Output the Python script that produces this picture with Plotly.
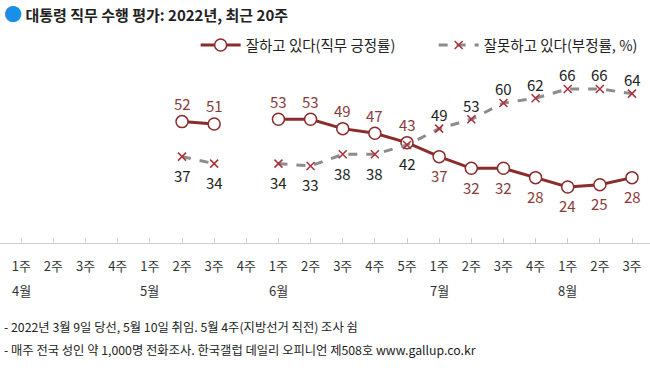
import plotly.graph_objects as go

weeks = ["1주", "2주", "3주", "4주",
         "1주", "2주", "3주", "4주",
         "1주", "2주", "3주", "4주", "5주",
         "1주", "2주", "3주", "4주",
         "1주", "2주", "3주"]
months = ["4월", "5월", "6월", "7월", "8월"]
month_start_idx = [0, 4, 8, 13, 17]

approve = [None, None, None, None,
           None, 52, 51, None,
           53, 53, 49, 47, 43,
           37, 32, 32, 28,
           24, 25, 28]
disapprove = [None, None, None, None,
              None, 37, 34, None,
              34, 33, 38, 38, 42,
              49, 53, 60, 62,
              66, 66, 64]

RED = "#8b2c2c"
LABEL_RED = "#8b3a3a"
GRAY = "#8c8c8c"
FONT = "Noto Sans CJK KR"

x = list(range(len(weeks)))

fig = go.Figure()
fig.add_trace(go.Scatter(
    x=x, y=approve, mode="lines+markers", name="잘하고 있다(직무 긍정률)",
    line=dict(color=RED, width=3),
    marker=dict(symbol="circle", size=12, color="white", line=dict(color=RED, width=1.5)),
))
fig.add_trace(go.Scatter(
    x=x, y=disapprove, mode="lines+markers", name="잘못하고 있다(부정률, %)",
    line=dict(color=GRAY, width=3, dash="dash"),
    marker=dict(symbol="x-thin", size=8, color="#a8323a", line=dict(color="#a8323a", width=1.5)),
))

annotations = []
cross_idx = 13  # from July onward, label positions swap
for i in x:
    a = approve[i]
    d = disapprove[i]
    if a is not None:
        up = i < cross_idx
        annotations.append(dict(x=i, y=a, xref="x", yref="y", text=str(a), showarrow=False,
                                yanchor="middle", yshift=18 if up else -19,
                                font=dict(family=FONT, size=15, color=LABEL_RED)))
    if d is not None:
        up = i >= cross_idx
        annotations.append(dict(x=i, y=d, xref="x", yref="y", text=str(d), showarrow=False,
                                yanchor="middle", yshift=14 if up else -19,
                                font=dict(family=FONT, size=15, color="#222222")))

for m, idx in zip(months, month_start_idx):
    annotations.append(dict(x=idx, y=0, xref="x", yref="paper", text=m, showarrow=False,
                            xanchor="center", yanchor="middle",
                            yshift=-47, font=dict(family=FONT, size=13, color="#333333")))

annotations.append(dict(x=0, y=1, xref="paper", yref="paper", xanchor="left", yanchor="middle",
                        xshift=2, yshift=47,
                        text='<span style="color:#1a8fe6;font-size:18px">●</span> <b>대통령 직무 수행 평가: 2022년, 최근 20주</b>',
                        showarrow=False, font=dict(family=FONT, size=15, color="#222222")))

footnotes = ["- 2022년 3월 9일 당선, 5월 10일 취임. 5월 4주(지방선거 직전) 조사 쉼",
             "- 매주 전국 성인 약 1,000명 전화조사. 한국갤럽 데일리 오피니언 제508호 www.gallup.co.kr"]
for k, t in enumerate(footnotes):
    annotations.append(dict(x=0, y=0, xref="paper", yref="paper", xanchor="left", yanchor="middle",
                            xshift=2, yshift=-84 - 23 * k, text=t, showarrow=False,
                            font=dict(family=FONT, size=12.3, color="#222222")))

fig.update_layout(
    width=650, height=371,
    margin=dict(l=0, r=0, t=60, b=128, autoexpand=False),
    paper_bgcolor="white", plot_bgcolor="white",
    font=dict(family=FONT, size=13, color="#333333"),
    xaxis=dict(range=[-0.663, 19.56], tickvals=x, ticktext=weeks, showgrid=False,
               zeroline=False, showline=True, linecolor="#d0d0d0", linewidth=1,
               ticks="inside", ticklen=5, tickcolor="#d0d0d0", ticklabelstandoff=11,
               tickfont=dict(size=13, color="#333333"), automargin=False),
    yaxis=dict(range=[0, 78.4], visible=False, automargin=False),
    showlegend=True,
    legend=dict(orientation="h", x=0.301, xanchor="left", y=1.082, yanchor="middle",
                font=dict(family=FONT, size=14.5, color="#222222"), itemwidth=40,
                entrywidth=183, entrywidthmode="pixels",
                bgcolor="rgba(0,0,0,0)"),
    annotations=annotations,
)

fig.write_html("out.html", config={"displayModeBar": False},
               post_script="document.body.style.margin='0';")
